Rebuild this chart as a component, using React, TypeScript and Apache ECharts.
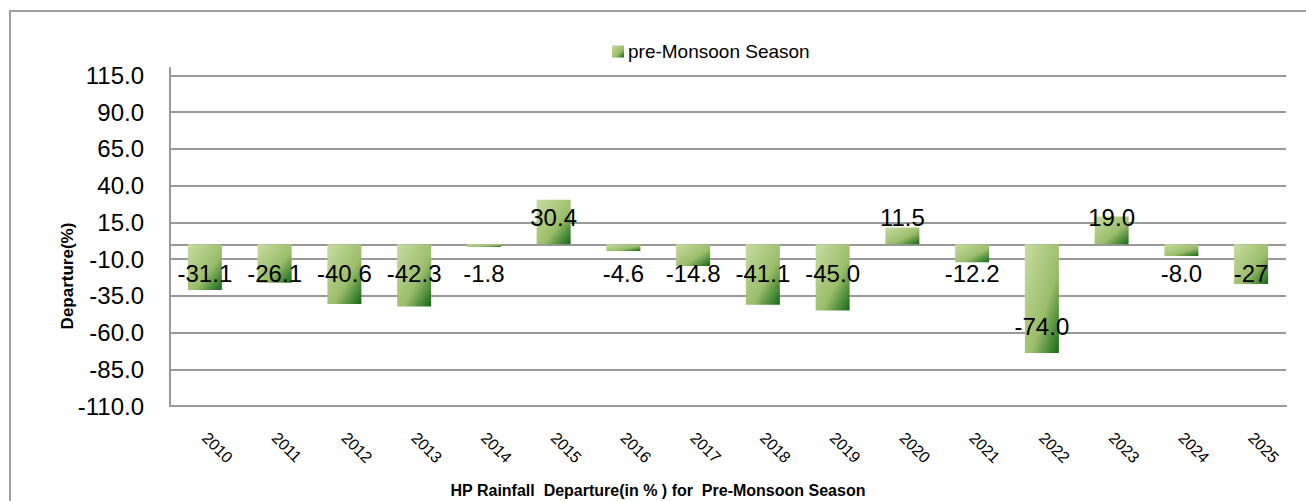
import React, { useEffect, useRef } from "react";
import * as echarts from "echarts";

const years = ["2010", "2011", "2012", "2013", "2014", "2015", "2016", "2017", "2018", "2019", "2020", "2021", "2022", "2023", "2024", "2025"];
const departures = [-31.1, -26.1, -40.6, -42.3, -1.8, 30.4, -4.6, -14.8, -41.1, -45.0, 11.5, -12.2, -74.0, 19.0, -8.0, -27];
const labelTexts = ["-31.1", "-26.1", "-40.6", "-42.3", "-1.8", "30.4", "-4.6", "-14.8", "-41.1", "-45.0", "11.5", "-12.2", "-74.0", "19.0", "-8.0", "-27"];
const seriesName = "pre-Monsoon Season";
const chartTitle = "HP Rainfall  Departure(in % ) for  Pre-Monsoon Season";
const yTitle = "Departure(%)";
const yMin = -110;
const yMax = 120;
const yStep = 25;

const FONT = "'Liberation Sans', Arial, sans-serif";

export default function App() {
  const ref = useRef<HTMLDivElement>(null);
  useEffect(() => {
    if (!ref.current) return;
    const chart = echarts.init(ref.current, undefined, { renderer: "svg" });
    const barGradient = new echarts.graphic.LinearGradient(0, 0, 1, 1, [
      { offset: 0, color: "#c8dca2" },
      { offset: 0.6, color: "#9bbd6a" },
      { offset: 1, color: "#126815" },
    ]);
    const data = departures.map((v, i) => {
      let position = "insideBottom";
      let distance = 15;
      if (v < 0 && v > -60) {
        position = "insideTop";
        distance = 17;
      }
      return {
        value: v,
        label: { position, distance, formatter: () => labelTexts[i] },
      };
    });
    chart.setOption({
      animation: false,
      textStyle: { fontFamily: FONT },
      grid: { left: 170, right: 20, top: 68, bottom: 95, containLabel: false },
      legend: {
        data: [seriesName],
        left: 612,
        top: 42,
        padding: 0,
        icon: "rect",
        itemWidth: 12,
        itemHeight: 12,
        itemGap: 10,
        textStyle: { fontFamily: FONT, fontSize: 19, color: "#000", padding: [0, 0, 0, -1] },
      },
      xAxis: {
        type: "category",
        data: years,
        axisLine: { show: true, onZero: false, lineStyle: { color: "#999", width: 2 } },
        axisTick: { show: false },
        axisLabel: { rotate: -45, margin: 29, fontSize: 16, color: "#000", fontFamily: FONT, interval: 0 },
        splitLine: { show: false },
      },
      yAxis: {
        type: "value",
        min: yMin,
        max: yMax,
        interval: yStep,
        axisLine: { show: true, lineStyle: { color: "#999", width: 2 } },
        axisTick: { show: false },
        axisLabel: {
          margin: 26,
          fontSize: 24,
          color: "#000",
          fontFamily: FONT,
          showMaxLabel: false,
          formatter: (v: number) => v.toFixed(1),
        },
        splitLine: { show: true, showMaxLine: false, lineStyle: { color: "#999", width: 2 } },
      },
      series: [
        {
          name: seriesName,
          type: "bar",
          data,
          barWidth: 34,
          itemStyle: { color: barGradient },
          label: {
            show: true,
            color: "#000",
            fontSize: 24,
            fontFamily: FONT,
            textBorderWidth: 0,
          },
          markLine: {
            silent: true,
            symbol: "none",
            label: { show: false },
            lineStyle: { color: "#999", width: 2, type: "solid" },
            data: [{ yAxis: 0 }],
            z: 1,
          },
        },
      ],
      graphic: [
        {
          type: "rect",
          silent: true,
          z: -10,
          shape: { x: 10, y: 11, width: 1400, height: 600 },
          style: { fill: "none", stroke: "#a0a0a0", lineWidth: 2 },
        },
        {
          type: "text",
          x: 67,
          y: 276,
          rotation: Math.PI / 2,
          style: {
            text: yTitle,
            fontFamily: FONT,
            fontWeight: "bold",
            fontSize: 17,
            fill: "#000",
            align: "center",
            verticalAlign: "middle",
          },
        },
        {
          type: "text",
          x: 658,
          y: 490,
          style: {
            text: chartTitle,
            fontFamily: FONT,
            fontWeight: "bold",
            fontSize: 16,
            fill: "#000",
            align: "center",
            verticalAlign: "middle",
          },
        },
      ],
    });
    return () => chart.dispose();
  }, []);
  return (
    <div
      ref={ref}
      style={{ position: "absolute", left: 0, top: 0, width: 1306, height: 501, background: "#fff" }}
    />
  );
}
